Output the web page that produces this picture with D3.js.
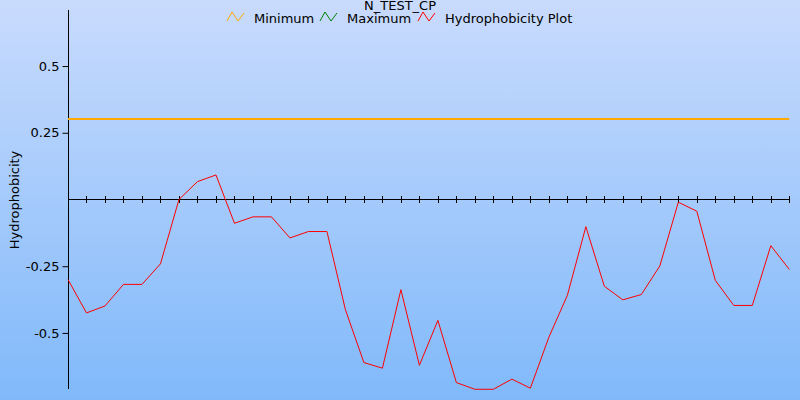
<!DOCTYPE html>
<html><head><meta charset="utf-8">
<script src="https://cdn.jsdelivr.net/npm/d3@7"></script>
<style>html,body{margin:0;padding:0;}svg{display:block;}</style>
</head><body>
<svg id="chart" width="800" height="400"></svg>
<script>
const title = "N_TEST_CP";
const yTitle = "Hydrophobicity";
const seriesNames = ["Minimum", "Maximum", "Hydrophobicity Plot"];
const seriesColors = ["#ffaa00", "#008000", "#ff0000"];
const yTicks = [-0.5, -0.25, 0.25, 0.5];
const yTickLabels = ["-0.5", "-0.25", "0.25", "0.5"];
const minimumValue = 0.3;
const maximumValues = [];
const hydro = [-0.300, -0.425, -0.399, -0.318, -0.318, -0.241, 0.0, 0.067, 0.092, -0.089,
  -0.065, -0.065, -0.144, -0.120, -0.120, -0.413, -0.611, -0.632, -0.338, -0.621,
  -0.453, -0.686, -0.711, -0.711, -0.673, -0.707, -0.516, -0.359, -0.102, -0.325,
  -0.376, -0.356, -0.249, -0.010, -0.044, -0.303, -0.397, -0.397, -0.173, -0.262];

const svg = d3.select("#chart");
const W = 800, H = 400;
const defs = svg.append("defs");
const grad = defs.append("linearGradient").attr("id","bg").attr("x1",0).attr("y1",0).attr("x2",0).attr("y2",1);
grad.append("stop").attr("offset","0%").attr("stop-color","#c9dbfd");
grad.append("stop").attr("offset","100%").attr("stop-color","#80b9fa");
svg.append("rect").attr("width",W).attr("height",H).attr("fill","url(#bg)");

const x = d3.scaleLinear().domain([0, hydro.length - 1]).range([68, 789.3]);
const y = d3.scaleLinear().domain([-0.71, 0.71]).range([389, 10]);
const font = "DejaVu Sans, Verdana, sans-serif";

// y axis
const yAxis = d3.axisLeft(y).tickValues(yTicks).tickFormat((d,i)=>yTickLabels[i]).tickSize(6).tickPadding(3);
const gy = svg.append("g").attr("transform","translate(68.5,0)").call(yAxis);
gy.select(".domain").attr("d", `M0,${y.range()[1]}V${y.range()[0]}`).attr("stroke","#000");
gy.selectAll(".tick line").attr("stroke","#000");
gy.selectAll(".tick text").attr("font-family",font).attr("font-size",13).attr("fill","#000");

// zero line with ticks
const zeroY = Math.floor(y(0)) + 0.5;
svg.append("line").attr("x1",x.range()[0]).attr("x2",x.range()[1]).attr("y1",zeroY).attr("y2",zeroY)
  .attr("stroke","#000").attr("stroke-width",1.2);
svg.append("g").selectAll("line").data(d3.range(1, hydro.length)).join("line")
  .attr("x1",d=>Math.round(x(d))+0.5).attr("x2",d=>Math.round(x(d))+0.5)
  .attr("y1",zeroY-3.5).attr("y2",zeroY+3.5).attr("stroke","#000").attr("stroke-width",1);

// minimum line
const minY = Math.round(y(minimumValue));
svg.append("line").attr("x1",x(0)).attr("x2",x(hydro.length-1)).attr("y1",minY).attr("y2",minY)
  .attr("stroke",seriesColors[0]).attr("stroke-width",2);
svg.append("path").datum(maximumValues)
  .attr("fill","none").attr("stroke",seriesColors[1]).attr("stroke-width",1)
  .attr("d", d3.line().x((d,i)=>x(i)).y(d=>y(d)));
// hydro line
svg.append("path").datum(hydro)
  .attr("fill","none").attr("stroke",seriesColors[2]).attr("stroke-width",1)
  .attr("d", d3.line().x((d,i)=>x(i)).y(d=>y(d)));

// y title
svg.append("text").attr("transform","translate(19,200) rotate(-90)").attr("text-anchor","middle")
  .attr("font-family",font).attr("font-size",13).text(yTitle);

// title
svg.append("text").attr("x",400).attr("y",10).attr("text-anchor","middle")
  .attr("font-family",font).attr("font-size",13).text(title);

// legend
const legendX = [227, 320, 418];
const lg = svg.append("g");
seriesNames.forEach((n,i)=>{
  const g = lg.append("g").attr("transform",`translate(${legendX[i]},0)`);
  g.append("path").attr("d","M0,21L5,12L11,21L17,13").attr("fill","none").attr("stroke",seriesColors[i]).attr("stroke-width",1);
  g.append("text").attr("x",27).attr("y",23).attr("font-family",font).attr("font-size",13).text(n);
});
</script>
</body></html>
